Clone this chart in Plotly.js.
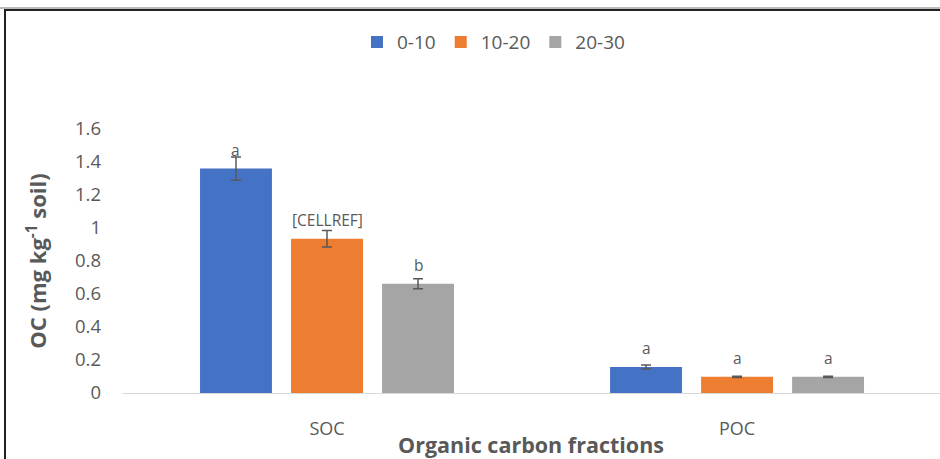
<!DOCTYPE html>
<html>
<head>
<meta charset="utf-8">
<script src="https://cdn.plot.ly/plotly-3.0.1.min.js"></script>
<style>
  html, body { margin: 0; padding: 0; background: #fff; overflow: hidden; }
  #chart { position: absolute; left: 0; top: 0; width: 940px; height: 459px; }
  #frame { position: absolute; left: 4px; top: 9px; width: 950px; height: 470px;
           border-left: 2px solid #222; border-top: 2px solid #222; pointer-events: none; }
  #frame2 { position: absolute; left: 0; top: 7px; width: 950px; height: 2px; background: #bbb; pointer-events: none; }
</style>
</head>
<body>
<div id="chart"></div>
<div id="frame2"></div>
<div id="frame"></div>
<script>
const categories = ["SOC", "POC"];
const seriesNames = ["0-10", "10-20", "20-30"];
const values_0_10  = [1.36, 0.158];
const values_10_20 = [0.935, 0.098];
const values_20_30 = [0.662, 0.098];
const err_0_10  = [0.07, 0.012];
const err_10_20 = [0.05, 0.004];
const err_20_30 = [0.03, 0.004];
const labels_0_10  = ["a", "a"];
const labels_10_20 = ["[CELLREF]", "a"];
const labels_20_30 = ["b", "a"];
const yTicks = [0, 0.2, 0.4, 0.6, 0.8, 1, 1.2, 1.4, 1.6];

const colors = ["#4472C4", "#ED7D31", "#A5A5A5"];
const FONT = "Open Sans, Noto Sans, sans-serif";
const vals = [values_0_10, values_10_20, values_20_30];
const errs = [err_0_10, err_10_20, err_20_30];
const labs = [labels_0_10, labels_10_20, labels_20_30];

const BARGAP = 0.334;
const slot = (1 - BARGAP) / seriesNames.length;

const traces = seriesNames.map((name, i) => ({
  type: "bar",
  name: name,
  x: categories,
  y: vals[i],
  marker: { color: colors[i] },
  error_y: { type: "data", array: errs[i], visible: true, color: "#595959", thickness: 1.5, width: 5 },
  hoverinfo: "skip"
}));

const annotations = [];
seriesNames.forEach((name, i) => {
  categories.forEach((c, j) => {
    annotations.push({
      xref: "x", yref: "y",
      x: j + (i - (seriesNames.length - 1) / 2) * slot,
      y: vals[i][j],
      text: labs[i][j],
      showarrow: false,
      yanchor: "bottom", xanchor: "center",
      yshift: 6,
      font: { family: FONT, size: 15.5, color: "#595959" }
    });
  });
});

const layout = {
  width: 940, height: 459,
  margin: { l: 122, r: 0, t: 129, b: 66, pad: 0 },
  paper_bgcolor: "#fff", plot_bgcolor: "#fff",
  font: { family: FONT, color: "#595959" },
  barmode: "group",
  bargap: BARGAP,
  bargroupgap: 0.21,
  showlegend: true,
  annotations: annotations,
  legend: {
    orientation: "h", xref: "container", yref: "container",
    x: 0.525, xanchor: "center", y: 0.908, yanchor: "middle",
    font: { family: FONT, size: 19, color: "#595959" },
    itemwidth: 30, traceorder: "normal"
  },
  xaxis: {
    type: "category",
    range: [-0.5, 1.495],
    showline: true, linecolor: "#D9D9D9", linewidth: 1,
    showgrid: false, zeroline: false,
    ticks: "", ticklabelstandoff: 19,
    tickfont: { family: FONT, size: 18, color: "#595959" },
    title: { text: "Organic carbon fractions", standoff: 0,
             font: { family: FONT, size: 21.5, color: "#595959", weight: "bold" } }
  },
  yaxis: {
    range: [0, 1.6],
    tickvals: yTicks,
    ticktext: yTicks.map(v => String(v)),
    showline: false, showgrid: false, zeroline: false,
    ticks: "", ticklabelstandoff: 20,
    tickfont: { family: FONT, size: 18.5, color: "#595959" },
    title: { text: "OC (mg kg<sup>-1</sup> soil)", standoff: 22,
             font: { family: FONT, size: 22, color: "#595959", weight: "bold" } }
  }
};

Plotly.newPlot("chart", traces, layout, { displayModeBar: false, staticPlot: true });
</script>
</body>
</html>
